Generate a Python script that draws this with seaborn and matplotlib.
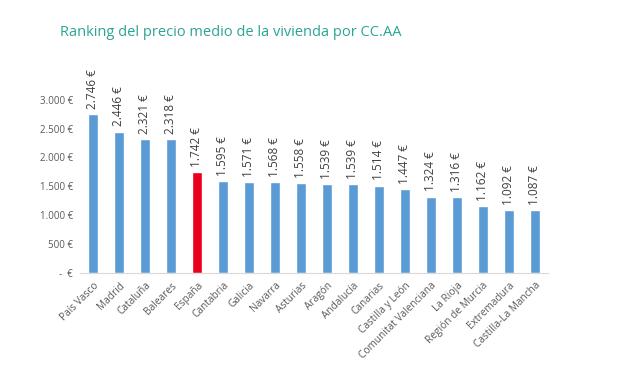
import matplotlib
matplotlib.use("Agg")
import matplotlib.pyplot as plt
import seaborn as sns
import pandas as pd

# Datos
regiones = ["País Vasco", "Madrid", "Cataluña", "Baleares", "España", "Cantabria",
            "Galicia", "Navarra", "Asturias", "Aragón", "Andalucía", "Canarias",
            "Castilla y León", "Comunitat Valenciana", "La Rioja", "Región de Murcia",
            "Extremadura", "Castilla-La Mancha"]
precios = [2746, 2446, 2321, 2318, 1742, 1595, 1571, 1568, 1558, 1539, 1539, 1514,
           1447, 1324, 1316, 1162, 1092, 1087]
y_ticks = [0, 500, 1000, 1500, 2000, 2500, 3000]
y_labels = ["-  €", "500 €", "1.000 €", "1.500 €", "2.000 €", "2.500 €", "3.000 €"]

df = pd.DataFrame({"region": regiones, "precio": precios})
colores = ["#E8001C" if r == "España" else "#5B9BD5" for r in regiones]

sns.set_style("white")
plt.rcParams["font.family"] = ["Open Sans", "DejaVu Sans"]

fig = plt.figure(figsize=(6.4, 3.82), dpi=100)
ax = fig.add_axes([0.125, 0.285, 0.731, 0.53])

sns.barplot(data=df, x="region", y="precio", hue="region", palette=colores,
            legend=False, width=0.37, ax=ax, saturation=1)

# Etiquetas de valor
for i, v in enumerate(precios):
    txt = f"{v:,}".replace(",", ".") + " €"
    ax.text(i, v + 90, txt, rotation=90, ha="center", va="bottom",
            fontsize=8.5, color="#404040", clip_on=False)

ax.set_ylim(0, 3500)
ax.set_xlim(-0.5, len(regiones) - 0.5)
ax.set_yticks(y_ticks)
ax.set_yticklabels(y_labels, fontsize=7, color="#595959")
ax.set_xticks(range(len(regiones)))
ax.set_xticklabels(regiones, rotation=45, ha="right", rotation_mode="anchor",
                   fontsize=7.3, color="#595959")
ax.tick_params(axis="both", length=0, pad=5)
ax.set_xlabel("")
ax.set_ylabel("")

sns.despine(ax=ax, left=True)
ax.spines["bottom"].set_color("#D9D9D9")

fig.text(0.094, 0.914, "Ranking del precio medio de la vivienda por CC.AA",
         fontsize=10.5, color="#2AA593", ha="left", va="center")

plt.savefig("out.png", dpi=100)
